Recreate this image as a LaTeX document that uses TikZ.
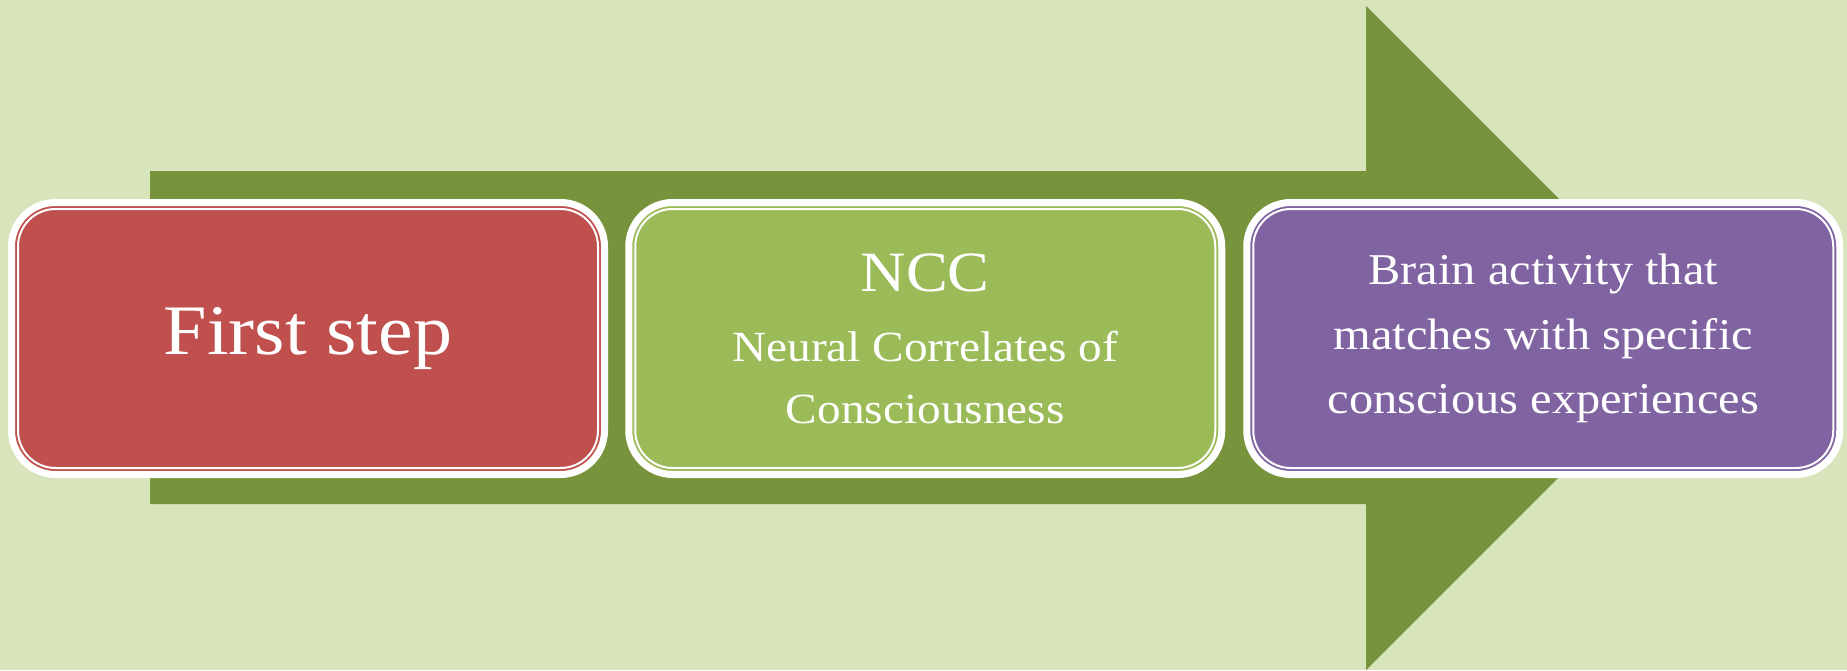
\documentclass[tikz,border=0pt]{standalone}
\usepackage{fontspec}
\setmainfont[FakeStretch=1.1]{Liberation Serif}
\usetikzlibrary{calc}
\definecolor{bgc}{HTML}{D8E4BC}
\definecolor{arrowc}{HTML}{77933C}
\definecolor{redc}{HTML}{C0504D}
\definecolor{greenc}{HTML}{9BBB59}
\definecolor{purplec}{HTML}{8064A2}
\tikzset{
  stepbox/.style={draw=white, line width=7pt, rounded corners=44pt,
    minimum width=593pt, minimum height=272pt, inner sep=0pt, outer sep=0pt,
    text=white, align=center},
  innerline/.style={draw=white, line width=2pt, rounded corners=37.5pt},
}
\begin{document}
\begin{tikzpicture}[x=1pt,y=-1pt]
\fill[bgc] (0,0) rectangle (1847,670);
\useasboundingbox (0,0) rectangle (1847,670);
% big arrow
\fill[arrowc] (150,171) -- (1366,171) -- (1366,6) -- (1698,338) -- (1366,670) -- (1366,504) -- (150,504) -- cycle;
% boxes
\node[stepbox, fill=redc, font=\fontsize{71}{80}\selectfont] (b1) at (308,338.5) {First step};
\node[stepbox, fill=greenc, font=\fontsize{43}{62}\selectfont] (b2) at (925.25,338.5)
  {{\fontsize{57}{62}\selectfont NCC}\\[8pt]Neural Correlates of\\Consciousness};
\node[stepbox, fill=purplec, font=\fontsize{44}{64.5}\selectfont] (b3) at (1543.25,338.5)
  {Brain activity that\\matches with specific\\conscious experiences};
\foreach \b in {b1,b2,b3}{
  \draw[innerline] ($(\b.north west)+(6.5,6.5)$) rectangle ($(\b.south east)+(-6.5,-6.5)$);
}
\end{tikzpicture}
\end{document}
